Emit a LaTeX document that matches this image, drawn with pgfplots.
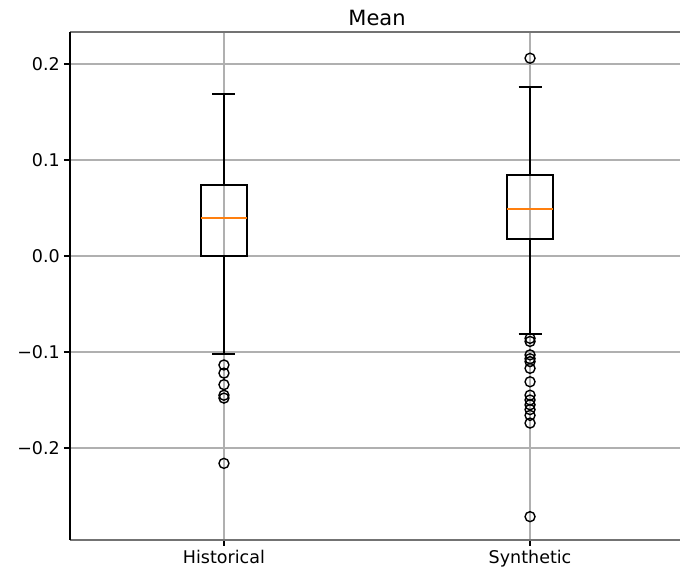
\documentclass[border=0pt]{standalone}
\usepackage{fontspec}
\setmainfont{DejaVu Sans}
\usepackage{pgfplots}
\pgfplotsset{compat=1.18}
\usepgfplotslibrary{statistics}
\definecolor{mplorange}{HTML}{FF7F0E}
\definecolor{gridgray}{HTML}{B0B0B0}
\begin{document}
\begin{tikzpicture}[x=1pt,y=1pt]
\begin{axis}[
  name=ax,
  scale only axis,
  width=614pt, height=508pt,
  xmin=0.497, xmax=2.503,
  ymin=-0.2958, ymax=0.2333,
  xtick={1,2}, xticklabels={Historical,Synthetic},
  ytick={-0.2,-0.1,0,0.1,0.2},
  yticklabels={−0.2,−0.1,0.0,0.1,0.2},
  ticklabel style={font=\fontsize{17.5}{20}\selectfont, inner sep=2pt},
  xticklabel style={yshift=-2pt},
  yticklabel style={xshift=-2pt},
  grid=major,
  major grid style={gridgray, line width=1.4pt},
  tick align=outside,
  major tick length=6pt,
  tick style={black, line width=1.4pt},
  xtick pos=bottom, ytick pos=left,
  axis line style={draw=none},
  title={Mean},
  title style={font=\fontsize{21}{24}\selectfont, yshift=-3pt},
  boxplot/draw direction=y,
  boxplot/box extend=0.15,
  boxplot/whisker extend=0.075,
  boxplot/every median/.style={draw=mplorange, line width=1.8pt},
]
\addplot+[black, line width=1.8pt, solid, mark=o, mark size=5pt, mark options={black, line width=1.4pt, fill=none},
  boxplot prepared={draw position=1, lower whisker=-0.102, lower quartile=0.0, median=0.0396, upper quartile=0.074, upper whisker=0.169}]
  coordinates {(0,-0.1135) (0,-0.122) (0,-0.134) (0,-0.145) (0,-0.148) (0,-0.216)};
\addplot+[black, line width=1.8pt, solid, mark=o, mark size=5pt, mark options={black, line width=1.4pt, fill=none},
  boxplot prepared={draw position=2, lower whisker=-0.081, lower quartile=0.0177, median=0.049, upper quartile=0.084, upper whisker=0.176}]
  coordinates {(0,0.206) (0,-0.0858) (0,-0.089) (0,-0.103) (0,-0.107) (0,-0.110) (0,-0.117) (0,-0.131) (0,-0.145) (0,-0.150) (0,-0.155) (0,-0.160) (0,-0.166) (0,-0.174) (0,-0.2715)};
\end{axis}
\draw[black!55, line width=1.4pt] (ax.south west) -- (ax.south east);
\draw[black!55, line width=1.4pt] (ax.north west) -- (ax.north east);
\draw[black, line width=1.8pt] (ax.south west) -- (ax.north west);
\pgfresetboundingbox
\path[use as bounding box] (ax.south west) ++(-70pt,-37pt) rectangle ++(680pt,577pt);
\end{tikzpicture}
\end{document}
